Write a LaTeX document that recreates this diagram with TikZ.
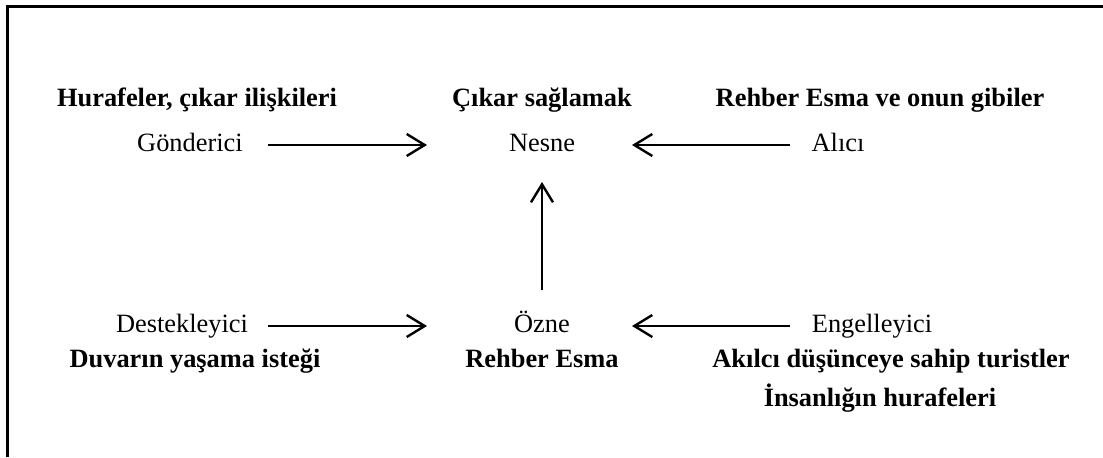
\documentclass[tikz,border=0pt]{standalone}
\usepackage{fontspec}
\setmainfont{Liberation Serif}
\usetikzlibrary{arrows.meta,positioning}

\tikzset{
    role/.style={font=\fontsize{13.2}{15}\selectfont, inner sep=0pt, text height=9pt, text depth=3pt},
    actor/.style={font=\fontsize{13.2}{15}\selectfont\bfseries, inner sep=0pt, text height=9pt, text depth=3pt},
    arr/.style={-{Straight Barb[length=9pt,width=11pt,line width=1.2pt]}, line width=1.2pt}
}

\begin{document}
\begin{tikzpicture}[x=0.5pt, y=-0.5pt]
    \useasboundingbox (0,0) rectangle (1103,457);

    % Frame (only top and left edge visible)
    \draw[line width=1.5pt] (7,457) -- (7,6) -- (1103,6);

    % Top row: sender, object, receiver
    \node[actor] (hurafe) at (197,100) {Hurafeler, çıkar ilişkileri};
    \node[role] (gonderici) at (190,145) {Gönderici};

    \node[actor] (cikar) at (542,100) {Çıkar sağlamak};
    \node[role] (nesne) at (542,145) {Nesne};

    \node[actor] (rehberler) at (880,100) {Rehber Esma ve onun gibiler};
    \node[role] (alici) at (838,145) {Alıcı};

    % Bottom row: helper, subject, opponent
    \node[role] (destek) at (182,326) {Destekleyici};
    \node[actor] (duvar) at (195,361) {Duvarın yaşama isteği};

    \node[role] (ozne) at (542,326) {Özne};
    \node[actor] (esma) at (542,361) {Rehber Esma};

    \node[role] (engel) at (872,326) {Engelleyici};
    \node[actor] (turist) at (891,361) {Akılcı düşünceye sahip turistler};
    \node[actor] (insan) at (880,400) {İnsanlığın hurafeleri};

    % Arrows
    \draw[arr, shorten <=39pt, shorten >=57.5pt] (gonderici.center) -- (nesne.center);
    \draw[arr, shorten <=24pt, shorten >=45pt] (alici.center) -- (nesne.center);
    \draw[arr, shorten <=43pt, shorten >=57.5pt] (destek.center) -- (ozne.center);
    \draw[arr, shorten <=41pt, shorten >=45pt] (engel.center) -- (ozne.center);
    \draw[arr, shorten <=18pt, shorten >=18.5pt] (ozne.center) -- (nesne.center);
\end{tikzpicture}
\end{document}
